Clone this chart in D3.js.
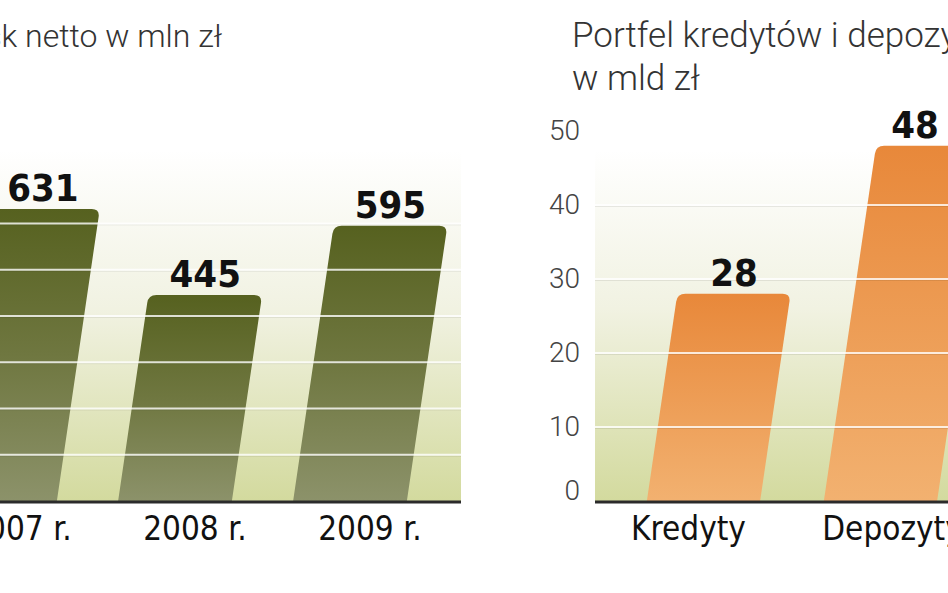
<!DOCTYPE html>
<html>
<head>
<meta charset="utf-8">
<script src="https://cdn.jsdelivr.net/npm/d3@7"></script>
<style>
  body { margin: 0; background: #fff; }
  svg { display: block; }
  .title { font-family: Roboto, "DejaVu Sans Condensed", sans-serif; font-weight: 300; font-size: 35px; fill: #333; }
  .cat { font-family: "DejaVu Sans Condensed", sans-serif; font-size: 33px; fill: #111; }
  .val { font-family: "DejaVu Sans Condensed", sans-serif; font-weight: bold; font-size: 38px; fill: #111; }
  .tick text { font-family: Roboto, "DejaVu Sans Condensed", sans-serif; font-weight: 300; font-size: 28px; fill: #444; }
</style>
</head>
<body>
<svg id="chart" width="948" height="593"></svg>
<script>
// zysk netto, mln zl
const years = ["2007 r.", "2008 r.", "2009 r."]
const profit = [631, 445, 595]
const profitGrid = [100, 200, 300, 400, 500, 600]

// portfel, mld zl
const kinds = ["Kredyty", "Depozyty"]
const portfolio = [28, 48]
const portTicks = [0, 10, 20, 30, 40, 50]
const portGrid = [10, 20, 30, 40]

const svg = d3.select("#chart")
const defs = svg.append("defs")

function grad(id, stops) {
    let g = defs.append("linearGradient").attr("id", id)
        .attr("x1", 0).attr("x2", 0).attr("y1", 0).attr("y2", 1)
    for (let s of stops) g.append("stop").attr("offset", s[0]).attr("stop-color", s[1])
}
grad("bg", [[0, "#ffffff"], [0.45, "#f1f2e2"], [1, "#d3da9e"]])
grad("olive", [[0, "#56611f"], [0.5, "#6f7740"], [1, "#8c926a"]])
grad("orange", [[0, "#e8883a"], [1, "#f2b170"]])

const slant = 0.147
const r = 8

// slanted bar with rounded top corners
function barPath(x0, w, y0, yt) {
    let s = (y0 - yt) * slant
    let k = r * slant
    return `M${x0},${y0}
        L${x0 + s - k},${yt + r}
        Q${x0 + s},${yt} ${x0 + s + r},${yt}
        L${x0 + s + w - r},${yt}
        Q${x0 + s + w},${yt} ${x0 + s + w - k},${yt + r}
        L${x0 + w},${y0} Z`
}

function panel(o) {
    const g = svg.append("g")
    const y = d3.scaleLinear().domain(o.domain).range([501, o.top])
    const x = d3.scaleBand().domain(o.cats).range(o.xr)
        .paddingInner(o.pad).paddingOuter(o.pad / 2)

    g.append("rect").attr("x", o.left).attr("y", 150)
        .attr("width", o.right - o.left).attr("height", 501 - 150)
        .attr("fill", "url(#bg)")

    g.selectAll(".bar").data(o.vals).enter().append("path")
        .attr("class", "bar")
        .attr("fill", o.fill)
        .attr("d", (d, i) => barPath(x(o.cats[i]), x.bandwidth(), y(0), y(d)))

    // gridlines go over the bars
    g.selectAll(".grid").data(o.grid).enter().append("line")
        .attr("x1", o.left).attr("x2", o.right)
        .attr("y1", d => y(d) + 1.5).attr("y2", d => y(d) + 1.5)
        .attr("stroke", "#000").attr("stroke-opacity", 0.08).attr("stroke-width", 1)
    g.selectAll(".gridw").data(o.grid).enter().append("line")
        .attr("x1", o.left).attr("x2", o.right)
        .attr("y1", d => y(d)).attr("y2", d => y(d))
        .attr("stroke", "#fff").attr("stroke-opacity", 0.8).attr("stroke-width", 2)

    g.append("line").attr("x1", o.left).attr("x2", o.right)
        .attr("y1", y(0) + 1).attr("y2", y(0) + 1)
        .attr("stroke", "#2b2b2b").attr("stroke-width", 3)

    // value labels, kept inside the visible area
    g.selectAll(".val").data(o.vals).enter().append("text")
        .attr("class", "val")
        .attr("text-anchor", "middle")
        .attr("x", (d, i) => Math.min(o.maxLabelX, x(o.cats[i]) + x.bandwidth() / 2 + (y(0) - y(d)) * slant))
        .attr("y", d => y(d) - 8)
        .text(d => d)

    g.selectAll(".cat").data(o.cats).enter().append("text")
        .attr("class", "cat")
        .attr("text-anchor", "middle")
        .attr("x", (d, i) => x(d) + x.bandwidth() / 2 + o.labelShift[i])
        .attr("y", 540)
        .text(d => d)

    return y
}

panel({
    cats: years, vals: profit, grid: profitGrid,
    domain: [0, 750], top: 154,
    xr: [-87.5, 437.5], pad: 0.35,
    left: 0, right: 461, maxLabelX: 420,
    fill: "url(#olive)", labelShift: [20, 20, 20]
})

const yR = panel({
    cats: kinds, vals: portfolio, grid: portGrid,
    domain: [0, 50], top: 131,
    xr: [615, 969], pad: 0.36,
    left: 595, right: 948, maxLabelX: 915,
    fill: "url(#orange)", labelShift: [-15, 12]
})

const ax = svg.append("g").attr("transform", "translate(582,0)")
    .call(d3.axisLeft(yR).tickValues(portTicks).tickSize(0).tickPadding(2))
ax.select(".domain").remove()
ax.selectAll(".tick text").attr("dy", d => d === 0 ? "-0.05em" : "0.32em")

// titles
svg.append("text").attr("class", "title").attr("text-anchor", "end")
    .style("font-size", "32px")
    .attr("x", 222).attr("y", 47).text("Zysk netto w mln zł")
svg.append("text").attr("class", "title")
    .attr("x", 572).attr("y", 47).text("Portfel kredytów i depozytów")
svg.append("text").attr("class", "title")
    .attr("x", 572).attr("y", 90).text("w mld zł")
</script>
</body>
</html>
